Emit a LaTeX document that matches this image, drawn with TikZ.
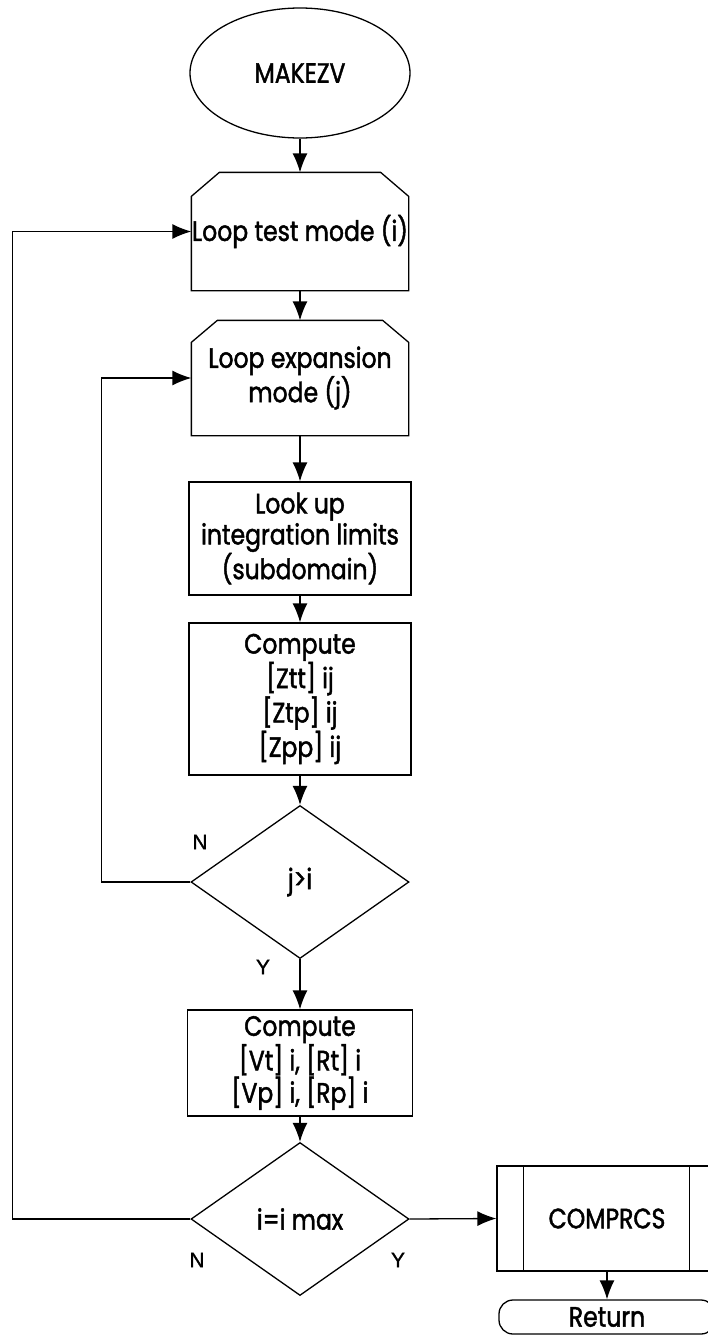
\documentclass[tikz,border=0pt]{standalone}
\usepackage{fontspec}
\setmainfont[FakeStretch=0.84,FakeBold=1.6]{Poppins}
\newfontfamily\labelfont[FakeBold=1.2]{Liberation Sans}
\usetikzlibrary{shapes.geometric,arrows.meta,calc}
\newcommand{\bxfont}{\fontsize{28}{31}\selectfont}
\begin{document}
\begin{tikzpicture}[x=1pt,y=-1pt,line width=1.3pt,
  box/.style={draw, minimum width=222pt, inner sep=0pt, align=center, font=\bxfont},
  chbox/.style={minimum width=216pt, inner sep=0pt, align=center, font=\bxfont},
  dec/.style={diamond, draw, minimum width=218pt, minimum height=153pt, inner sep=0pt, font=\bxfont},
  lbl/.style={font=\labelfont\fontsize{21}{24}\selectfont},
  arr/.style={-{Latex[length=19pt,width=15pt]}}]
\useasboundingbox (0,0) rectangle (708,1336);
\clip (0,0) rectangle (708,1336);

\node[ellipse, draw, minimum width=220pt, minimum height=130pt, inner sep=0pt, font=\bxfont] (start) at (300,73) {MAKEZV};

\node[chbox, minimum height=117pt] (lt) at (300,231.5) {Loop test mode (i)};
\draw (lt.south west) -- ($(lt.north west)+(0,24)$) -- ($(lt.north west)+(28,0)$) -- ($(lt.north east)+(-28,0)$) -- ($(lt.north east)+(0,24)$) -- (lt.south east) -- cycle;

\node[chbox, minimum height=114pt] (le) at (300,378) {Loop expansion\\mode (j)};
\draw (le.south west) -- ($(le.north west)+(0,22)$) -- ($(le.north west)+(26,0)$) -- ($(le.north east)+(-26,0)$) -- ($(le.north east)+(0,22)$) -- (le.south east) -- cycle;

\node[box, minimum height=113pt] (lu) at (300,538.5) {Look up\\integration limits\\(subdomain)};
\node[box, minimum height=152pt] (c1) at (300,699) {Compute\\{[Ztt] ij}\\{[Ztp] ij}\\{[Zpp] ij}};
\node[dec] (d1) at (300,882) {j>i};
\node[box, minimum width=225pt, minimum height=106pt] (c2) at (300,1063) {Compute\\{[Vt] i, [Rt] i}\\{[Vp] i, [Rp] i}};
\node[dec] (d2) at (300,1219) {i=i max};

\node[box, minimum width=220pt, minimum height=105pt] (cp) at (607,1218.5) {COMPRCS};
\draw ($(cp.north west)+(27,0)$) -- ($(cp.south west)+(27,0)$);
\draw ($(cp.north east)+(-28,0)$) -- ($(cp.south east)+(-28,0)$);
\node[draw, rounded corners=14pt, minimum width=216pt, minimum height=34pt, inner sep=0pt, font=\bxfont] (ret) at (607,1317) {Return};

\draw[arr] (start) -- (lt);
\draw[arr] (lt) -- (le);
\draw[arr] (le) -- (lu);
\draw[arr] (lu) -- (c1);
\draw[arr] (c1) -- (d1);
\draw[arr] (d1.west) -- ++(-89,0) |- (le.west);
\draw[arr] (d1) -- (c2);
\draw[arr] (c2) -- (d2);
\draw[arr] (d2.west) -- ++(-178,0) |- (lt.west);
\draw[arr] (d2.east) -- (cp.west);
\draw[arr] (cp.south) -- (ret.north);

\node[lbl] (n1) at (200,842) {N};
\node[lbl] (y1) at (263,967) {Y};
\node[lbl] (n2) at (197,1260) {N};
\node[lbl] (y2) at (398,1260) {Y};
\end{tikzpicture}
\end{document}
